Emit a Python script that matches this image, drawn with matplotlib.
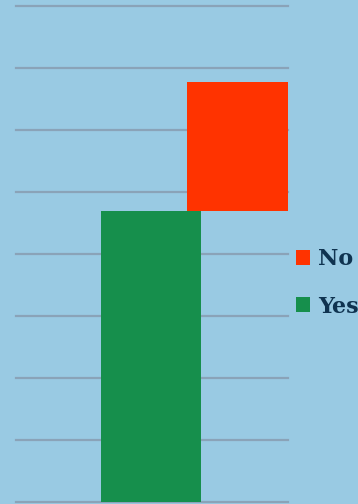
import matplotlib.pyplot as plt

# waterfall-style stacked responses
categories = ['Yes', 'No']
values = [46.9, 20.8]
positions = [0.0, 1.0]
colors = {'Yes': '#168f4c', 'No': '#ff3300'}

bg = '#99cae3'
grid_color = '#8aa3b8'
text_color = '#0f3350'

fig = plt.figure(figsize=(3.58, 5.04), dpi=100)
fig.patch.set_facecolor(bg)
ax = fig.add_axes([16 / 358, 2 / 504, 272 / 358, 496 / 504])
ax.set_facecolor(bg)

bottoms = [0, values[0]]
bars = {}
for cat, val, pos, base in zip(categories, values, positions, bottoms):
    bars[cat] = ax.bar(pos, val, width=1.16, bottom=base, color=colors[cat],
                       zorder=3 if cat == 'Yes' else 2, linewidth=0)

ax.set_xlim(-1.561, 1.584)
ax.set_ylim(0, 80)
ax.set_yticks(range(0, 81, 10))
ax.yaxis.grid(True, color=grid_color, linewidth=1.6, zorder=1)
for gl in ax.get_ygridlines():
    gl.set_clip_on(False)
ax.set_axisbelow(True)
ax.tick_params(left=False, bottom=False, labelleft=False, labelbottom=False)
for s in ax.spines.values():
    s.set_visible(False)

leg = ax.legend([bars['No'], bars['Yes']], ['No', 'Yes'],
                loc='upper left', bbox_to_anchor=(0.995, 0.53),
                frameon=False, handlelength=0.65, handleheight=0.65,
                handletextpad=0.35, labelspacing=1.15, borderaxespad=0.0,
                prop={'family': 'DejaVu Serif', 'weight': 'bold', 'size': 16})
for t in leg.get_texts():
    t.set_color(text_color)

fig.savefig('out.png', dpi=100, facecolor=bg)
